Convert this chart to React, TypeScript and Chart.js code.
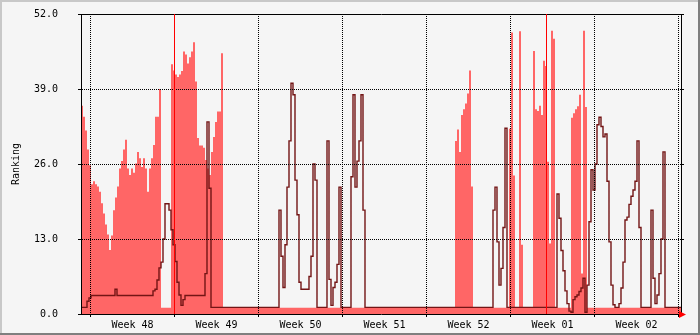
import { useEffect, useRef } from 'react';
import { Chart, registerables } from 'chart.js';

Chart.register(...registerables);

// ---- data ----
const SAMPLE_HOURS = 4; // one sample every 4 hours
const RANGE_HOURS = 1200;
const weekStartHours = [19, 187, 355, 523, 691, 859, 1027, 1195];
const weekLabels = ['Week 48', 'Week 49', 'Week 50', 'Week 51', 'Week 52', 'Week 01', 'Week 02', ''];
const rankTicks = [0, 13, 26, 39, 52];
const ruleHours = [187, 931];

// light red area (max ranking)
const rankBand = [
  36.1, 34.2, 31.8, 28.5, 25.8, 22.5, 23.0, 22.5, 22.1, 21.2,
  19.2, 17.4, 15.5, 13.8, 11.1, 13.6, 18.0, 20.2, 22.1, 25.2,
  26.5, 28.5, 30.2, 25.2, 24.1, 25.2, 24.5, 26.1, 28.1, 27.0,
  25.5, 27.0, 25.2, 21.2, 25.2, 27.0, 29.3, 34.2, 34.2, 39.0,
  1.1, 1.1, 1.1, 1.1, 1.1, 43.3, 42.2, 41.5, 41.1, 41.5,
  42.1, 45.5, 45.0, 43.4, 44.5, 45.5, 47.1, 40.3, 30.5, 29.2,
  29.2, 28.8, 26.7, 25.2, 24.1, 28.1, 30.7, 33.3, 35.1, 35.1,
  45.2, 1.1, 1.1, 1.1, 1.1, 1.1, 1.1, 1.1, 1.1, 1.1,
  1.1, 1.1, 1.1, 1.1, 1.1, 1.1, 1.1, 1.1, 1.1, 1.1,
  1.1, 1.1, 1.1, 1.1, 1.1, 1.1, 1.1, 1.1, 1.1, 1.1,
  1.1, 1.1, 1.1, 1.1, 1.1, 1.1, 1.1, 1.1, 1.1, 1.1,
  1.1, 1.1, 1.1, 1.1, 1.1, 1.1, 1.1, 1.1, 1.1, 1.1,
  1.1, 1.1, 1.1, 1.1, 1.1, 1.1, 1.1, 1.1, 1.1, 1.1,
  1.1, 1.1, 1.1, 1.1, 1.1, 1.1, 1.1, 1.1, 1.1, 1.1,
  1.1, 1.1, 1.1, 1.1, 1.1, 1.1, 1.1, 1.1, 1.1, 1.1,
  1.1, 1.1, 1.1, 1.1, 1.1, 1.1, 1.1, 1.1, 1.1, 1.1,
  1.1, 1.1, 1.1, 1.1, 1.1, 1.1, 1.1, 1.1, 1.1, 1.1,
  1.1, 1.1, 1.1, 1.1, 1.1, 1.1, 1.1, 1.1, 1.1, 1.1,
  1.1, 1.1, 1.1, 1.1, 1.1, 1.1, 1.1, 30.0, 32.0, 28.1,
  34.5, 35.5, 36.5, 38.2, 42.2, 22.1, 1.1, 1.1, 1.1, 1.1,
  1.1, 1.1, 1.1, 1.1, 1.1, 1.1, 1.1, 1.1, 1.1, 1.1,
  1.1, 1.1, 1.1, 1.1, 32.1, 48.8, 24.0, 1.1, 1.1, 49.0,
  12.0, 1.1, 1.1, 1.1, 1.1, 1.1, 45.6, 35.5, 35.2, 36.1,
  34.5, 43.9, 43.0, 26.4, 12.2, 49.1, 47.7, 1.1, 1.1, 1.1,
  1.1, 1.1, 1.1, 1.1, 1.1, 34.0, 34.8, 35.5, 36.0, 38.0,
  7.0, 49.1, 35.9, 1.1, 1.1, 1.1, 1.1, 1.1, 1.1, 1.1,
  1.1, 1.1, 1.1, 1.1, 1.1, 1.1, 1.1, 1.1, 1.1, 1.1,
  1.1, 1.1, 1.1, 1.1, 1.1, 1.1, 1.1, 1.1, 1.1, 1.1,
  1.1, 1.1, 1.1, 1.1, 1.1, 1.1, 1.1, 1.1, 1.1, 1.1,
  1.1, 1.1, 1.1, 1.1, 1.1, 1.1, 1.1, 1.1, 1.1, 1.1,
];

// dark red line (average ranking)
const rankLine = [
  1.15, 1.15, 1.15, 2.2, 2.8, 3.2, 3.2, 3.2, 3.2, 3.2,
  3.2, 3.2, 3.2, 3.2, 3.2, 3.2, 3.2, 4.3, 3.2, 3.2,
  3.2, 3.2, 3.2, 3.2, 3.2, 3.2, 3.2, 3.2, 3.2, 3.2,
  3.2, 3.2, 3.2, 3.2, 3.2, 3.2, 4.0, 4.3, 5.9, 8.0,
  9.0, 13.0, 19.1, 19.1, 18.0, 14.6, 12.0, 9.1, 5.5, 3.3,
  1.5, 2.5, 3.2, 3.2, 3.2, 3.2, 3.2, 3.2, 3.2, 3.2,
  3.2, 3.2, 7.0, 33.3, 21.8, 1.15, 1.15, 1.15, 1.15, 1.15,
  1.15, 1.15, 1.15, 1.15, 1.15, 1.15, 1.15, 1.15, 1.15, 1.15,
  1.15, 1.15, 1.15, 1.15, 1.15, 1.15, 1.15, 1.15, 1.15, 1.15,
  1.15, 1.15, 1.15, 1.15, 1.15, 1.15, 1.15, 1.15, 1.15, 18.0,
  10.0, 4.6, 12.0, 22.0, 30.0, 40.0, 38.0, 23.2, 17.2, 5.5,
  4.3, 4.3, 4.3, 4.3, 6.5, 10.0, 26.0, 23.2, 1.15, 1.15,
  1.15, 1.15, 1.15, 30.0, 6.0, 1.5, 4.6, 5.5, 8.6, 22.0,
  1.15, 1.15, 1.15, 1.15, 1.15, 23.8, 38.0, 22.0, 26.5, 30.0,
  38.0, 18.0, 1.15, 1.15, 1.15, 1.15, 1.15, 1.15, 1.15, 1.15,
  1.15, 1.15, 1.15, 1.15, 1.15, 1.15, 1.15, 1.15, 1.15, 1.15,
  1.15, 1.15, 1.15, 1.15, 1.15, 1.15, 1.15, 1.15, 1.15, 1.15,
  1.15, 1.15, 1.15, 1.15, 1.15, 1.15, 1.15, 1.15, 1.15, 1.15,
  1.15, 1.15, 1.15, 1.15, 1.15, 1.15, 1.15, 1.15, 1.15, 1.15,
  1.15, 1.15, 1.15, 1.15, 1.15, 1.15, 1.15, 1.15, 1.15, 1.15,
  1.15, 1.15, 1.15, 1.15, 1.15, 1.15, 18.0, 22.0, 12.5, 5.0,
  7.9, 15.0, 32.2, 1.15, 1.15, 1.15, 1.15, 1.15, 1.15, 1.15,
  1.15, 1.15, 1.15, 1.15, 1.15, 1.15, 1.15, 1.15, 1.15, 1.15,
  1.15, 1.15, 1.15, 1.15, 1.15, 1.15, 1.15, 1.15, 20.8, 16.6,
  11.0, 7.5, 4.0, 1.8, 0.5, 0.3, 2.5, 3.0, 3.3, 3.9,
  4.5, 6.2, 0.3, 5.0, 16.0, 25.0, 21.5, 26.0, 32.8, 34.1,
  32.5, 30.7, 31.2, 23.0, 12.5, 5.0, 1.6, 1.15, 1.15, 1.8,
  4.5, 9.0, 16.3, 16.8, 19.0, 20.4, 21.5, 23.0, 30.0, 15.0,
  1.15, 1.15, 1.15, 1.15, 1.15, 18.0, 6.2, 1.8, 3.3, 7.0,
  13.0, 28.1, 1.15, 1.15, 1.15, 1.15, 1.15, 1.15, 1.15, 1.15,
];

const FONT = "'DejaVu Sans Mono', monospace";
const BACK = '#f5f5f5';

function toSteps(values: number[]) {
  const pts = values.map((v, i) => ({ x: i * SAMPLE_HOURS, y: v }));
  pts.push({ x: values.length * SAMPLE_HOURS, y: values[values.length - 1] });
  return pts;
}

const align = (p: number) => Math.round(p - 0.5) + 0.5;

const framePlugin = {
  id: 'rrdFrame',
  beforeDraw(chart: any) {
    const { ctx, width, height } = chart;
    ctx.save();
    ctx.fillStyle = BACK;
    ctx.fillRect(0, 0, width, height);
    ctx.fillStyle = '#c8c8c8';
    ctx.fillRect(0, 0, width, 2);
    ctx.fillRect(0, 0, 2, height);
    ctx.fillStyle = '#7f7f7f';
    ctx.fillRect(0, height - 2, width, 2);
    ctx.fillRect(width - 2, 0, 2, height);
    ctx.restore();
  },
  afterDraw(chart: any) {
    const { ctx, chartArea: a, scales } = chart;
    ctx.save();
    ctx.strokeStyle = '#000';
    ctx.lineWidth = 1;
    ctx.beginPath();
    ctx.moveTo(a.left, a.top + 0.5);
    ctx.lineTo(a.right + 1, a.top + 0.5);
    ctx.moveTo(a.right + 0.5, a.top);
    ctx.lineTo(a.right + 0.5, a.bottom + 1);
    rankTicks.forEach((v) => {
      const y = align(scales.y.getPixelForValue(v));
      ctx.moveTo(a.right + 1, y);
      ctx.lineTo(a.right + 3, y);
    });
    ctx.stroke();
    ctx.strokeStyle = '#ff0000';
    ctx.beginPath();
    ruleHours.forEach((h) => {
      const x = Math.floor(scales.x.getPixelForValue(h)) + 0.5;
      ctx.moveTo(x, a.top);
      ctx.lineTo(x, a.bottom);
    });
    ctx.stroke();
    ctx.fillStyle = '#ff0000';
    ctx.beginPath();
    ctx.moveTo(a.right - 2, a.bottom - 3);
    ctx.lineTo(a.right + 5, a.bottom + 0.5);
    ctx.lineTo(a.right - 2, a.bottom + 4);
    ctx.closePath();
    ctx.fill();
    ctx.restore();
  },
};

export default function App() {
  const ref = useRef<HTMLCanvasElement>(null);

  useEffect(() => {
    const canvas = ref.current;
    if (!canvas) return;
    const gridCommon = {
      color: '#000',
      lineWidth: 1,
      tickLength: 3,
      drawTicks: true,
      z: 1,
    };
    const borderCommon = { display: true, color: '#000', width: 1, dash: [1, 1], z: 1 };
    const chart = new Chart(canvas, {
      type: 'line',
      data: {
        datasets: [
          {
            label: 'line',
            data: toSteps(rankLine),
            stepped: true,
            borderColor: '#731515',
            borderWidth: 1.4,
            pointRadius: 0,
            fill: false,
          },
          {
            label: 'band',
            data: toSteps(rankBand),
            stepped: true,
            borderColor: 'rgba(0,0,0,0)',
            borderWidth: 0,
            backgroundColor: '#ff6666',
            pointRadius: 0,
            fill: 'origin',
          },
        ],
      },
      options: {
        animation: false,
        responsive: false,
        devicePixelRatio: 1,
        events: [],
        layout: { padding: { left: 0, right: 19, top: 14, bottom: 0 } },
        plugins: {
          legend: { display: false },
          tooltip: { enabled: false },
        },
        scales: {
          x: {
            type: 'linear',
            min: 0,
            max: RANGE_HOURS,
            z: 1,
            afterBuildTicks: (s: any) => {
              s.ticks = weekStartHours.map((v) => ({ value: v }));
            },
            afterFit: (s: any) => {
              s.height = 21;
              s.paddingLeft = 0;
              s.paddingRight = 0;
            },
            grid: gridCommon,
            border: borderCommon,
            ticks: {
              autoSkip: false,
              maxRotation: 0,
              minRotation: 0,
              labelOffset: 42,
              padding: 2,
              color: '#000',
              z: 1,
              font: { family: FONT, size: 10 },
              callback: (_v: any, i: number) => weekLabels[i] ?? '',
            },
          },
          y: {
            type: 'linear',
            min: 0,
            max: 52,
            z: 1,
            afterBuildTicks: (s: any) => {
              s.ticks = rankTicks.map((v) => ({ value: v }));
            },
            afterFit: (s: any) => {
              s.width = 81;
              s.paddingTop = 0;
              s.paddingBottom = 0;
            },
            grid: gridCommon,
            border: borderCommon,
            ticks: {
              padding: 20,
              color: '#000',
              z: 1,
              font: { family: FONT, size: 10 },
              callback: (v: any) => Number(v).toFixed(1),
            },
            title: {
              display: true,
              text: 'Ranking',
              color: '#000',
              font: { family: FONT, size: 10 },
              padding: { top: 10, bottom: 0 },
            },
          },
        },
      },
      plugins: [framePlugin],
    } as any);
    return () => chart.destroy();
  }, []);

  return (
    <div style={{ position: 'absolute', left: 0, top: 0, width: 700, height: 335 }}>
      <canvas ref={ref} width={700} height={335} style={{ display: 'block', width: 700, height: 335 }} />
    </div>
  );
}
